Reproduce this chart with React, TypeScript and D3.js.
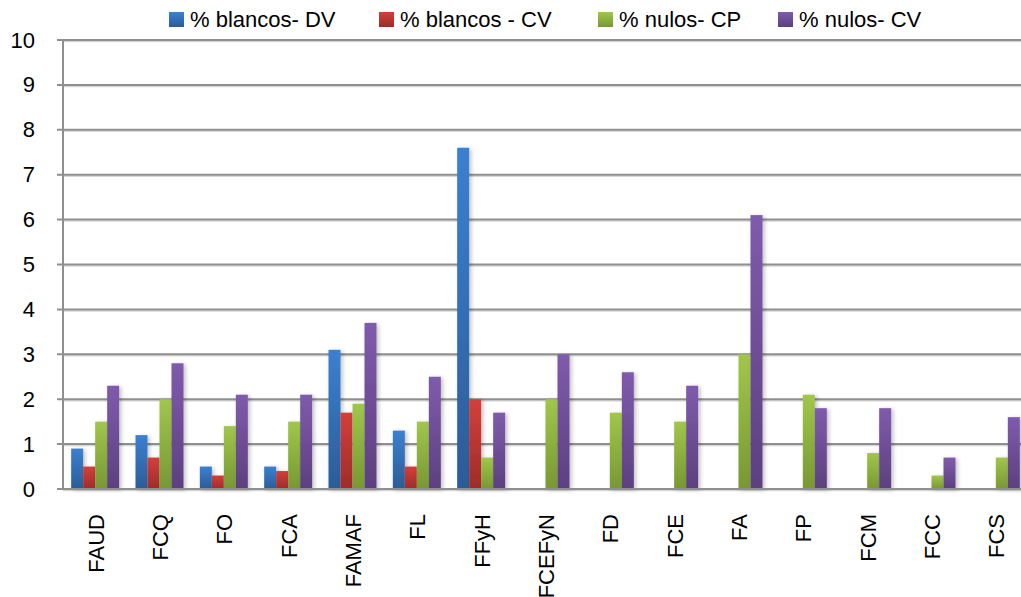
import React from "react";
import * as d3 from "d3";

const categories = ["FAUD", "FCQ", "FO", "FCA", "FAMAF", "FL", "FFyH", "FCEFyN", "FD", "FCE", "FA", "FP", "FCM", "FCC", "FCS"];
const seriesNames = ["% blancos- DV", "% blancos - CV", "% nulos- CP", "% nulos- CV"];
const blancosDV = [0.9, 1.2, 0.5, 0.5, 3.1, 1.3, 7.6, 0, 0, 0, 0, 0, 0, 0, 0];
const blancosCV = [0.5, 0.7, 0.3, 0.4, 1.7, 0.5, 2.0, 0, 0, 0, 0, 0, 0, 0, 0];
const nulosCP = [1.5, 2.0, 1.4, 1.5, 1.9, 1.5, 0.7, 2.0, 1.7, 1.5, 3.0, 2.1, 0.8, 0.3, 0.7];
const nulosCV = [2.3, 2.8, 2.1, 2.1, 3.7, 2.5, 1.7, 3.0, 2.6, 2.3, 6.1, 1.8, 1.8, 0.7, 1.6];
const yTicks = [0, 1, 2, 3, 4, 5, 6, 7, 8, 9, 10];

const seriesValues = [blancosDV, blancosCV, nulosCP, nulosCV];
const gradients = [
  ["#3b80d1", "#2b5c98"],
  ["#d33f3b", "#9e2c29"],
  ["#a0c74a", "#779833"],
  ["#7f5bac", "#5c407f"],
];
const legendX = [169, 379, 598, 778];

export default function App() {
  const W = 1021, H = 597;
  const left = 63, right = 1028, top = 40, bottom = 489;
  const font = "'Liberation Sans', Arial, sans-serif";
  const y = d3.scaleLinear().domain([0, 10]).range([bottom, top]);
  const x0 = d3.scaleBand().domain(categories).range([left, right]).paddingInner(0.254).paddingOuter(0.127);
  const x1 = d3.scaleBand().domain(seriesNames).range([0, x0.bandwidth()]);

  return (
    <svg width={W} height={H} style={{ position: "absolute", left: 0, top: 0, background: "#fff" }}>
      <defs>
        {gradients.map((g, i) => (
          <linearGradient key={i} id={`g${i}`} x1="0" y1="0" x2="0" y2="1">
            <stop offset="0" stopColor={g[0]} />
            <stop offset="1" stopColor={g[1]} />
          </linearGradient>
        ))}
        <filter id="sh" x="-30%" y="-10%" width="160%" height="120%">
          <feGaussianBlur in="SourceAlpha" stdDeviation="2" />
          <feOffset dx="2" dy="1" result="b" />
          <feComponentTransfer><feFuncA type="linear" slope="0.25" /></feComponentTransfer>
          <feMerge><feMergeNode /><feMergeNode in="SourceGraphic" /></feMerge>
        </filter>
      </defs>
      {yTicks.map((t) => (
        <g key={t}>
          <line x1={left} x2={W} y1={y(t) + 1.5} y2={y(t) + 1.5} stroke="#d6d6d6" strokeWidth={1.5} />
          <line x1={left - 6} x2={W} y1={y(t)} y2={y(t)} stroke="#8f8f8f" strokeWidth={2} />
          <text x={35} y={y(t)} textAnchor="end" dominantBaseline="central" fontFamily={font} fontSize={22} fill="#000">{t}</text>
        </g>
      ))}
      <line x1={left} x2={left} y1={top} y2={bottom} stroke="#8f8f8f" strokeWidth={2} />
      {seriesValues.map((vals, si) => (
        <g key={si} filter="url(#sh)">
          {vals.map((v, ci) => v > 0 ? (
            <rect key={ci} x={(x0(categories[ci]) as number) + (x1(seriesNames[si]) as number)} y={y(v)} width={x1.bandwidth()} height={bottom - y(v)} fill={`url(#g${si})`} />
          ) : null)}
        </g>
      ))}
      <line x1={left} x2={W} y1={bottom} y2={bottom} stroke="#8f8f8f" strokeWidth={2} />
      {categories.map((c) => (
        <text key={c} transform={`translate(${(x0(c) as number) + x0.bandwidth() / 2 + 1},514) rotate(-90)`} textAnchor="end" dominantBaseline="central" fontFamily={font} fontSize={22} fill="#000">{c}</text>
      ))}
      {seriesNames.map((s, i) => (
        <g key={s}>
          <rect x={legendX[i]} y={12} width={15} height={15} fill={`url(#g${i})`} />
          <text x={legendX[i] + 21} y={19} dominantBaseline="central" fontFamily={font} fontSize={22} fill="#000">{s}</text>
        </g>
      ))}
    </svg>
  );
}
